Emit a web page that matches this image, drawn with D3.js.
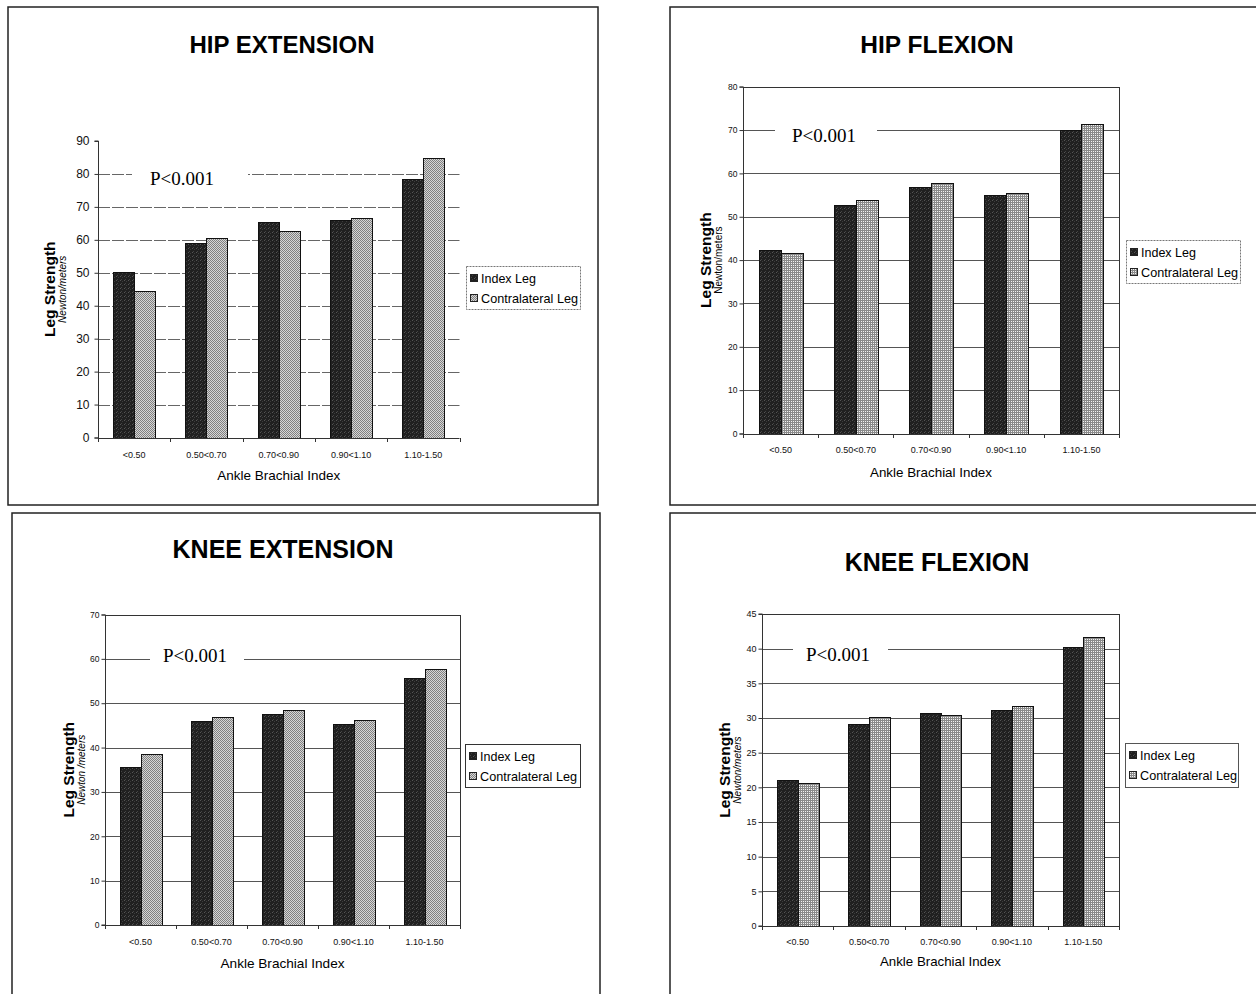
<!DOCTYPE html>
<html><head><meta charset="utf-8">
<script src="https://cdn.jsdelivr.net/npm/d3@7"></script>
<style>body{margin:0;background:#fff} svg{display:block}</style>
</head><body>
<svg id="c" width="1256" height="994"></svg>
<script>
// ---------- data ----------
const categories = ["<0.50", "0.50<0.70", "0.70<0.90", "0.90<1.10", "1.10-1.50"];
const seriesNames = ["Index Leg", "Contralateral Leg"];
const hipExtIndex   = [50.2, 58.9, 65.5, 66.0, 78.4];
const hipExtContra  = [44.6, 60.7, 62.8, 66.6, 84.9];
const hipFlexIndex  = [42.4, 52.6, 56.9, 55.0, 70.0];
const hipFlexContra = [41.6, 53.9, 57.9, 55.4, 71.3];
const kneeExtIndex  = [35.7, 46.0, 47.6, 45.4, 55.6];
const kneeExtContra = [38.5, 47.0, 48.5, 46.3, 57.8];
const kneeFlexIndex = [21.1, 29.2, 30.7, 31.2, 40.3];
const kneeFlexContra= [20.6, 30.2, 30.5, 31.8, 41.7];
const hipExtTicks  = [0, 10, 20, 30, 40, 50, 60, 70, 80, 90];
const hipFlexTicks = [0, 10, 20, 30, 40, 50, 60, 70, 80];
const kneeExtTicks = [0, 10, 20, 30, 40, 50, 60, 70];
const kneeFlexTicks= [0, 5, 10, 15, 20, 25, 30, 35, 40, 45];
const xAxisTitle = "Ankle Brachial Index";
const yAxisTitle = "Leg Strength";
const pValueLabel = "P<0.001";

// ---------- layout ----------
const panels = [
  { title: "HIP EXTENSION", titleSize: 24, frame: [8, 7, 590, 498], tx: 282, ty: 53,
    plot: { l: 98, r: 459.5, t: 141, b: 437.5 }, ticks: hipExtTicks, idx: hipExtIndex, con: hipExtContra,
    boxed: false, tickFont: 12, gridDash: "12,2", gridColor: "#666", unit: "Newton/meters", unitItalic: true,
    yTitleX: 55, yUnitX: 66, xLabY: 457, xTitleY: 480, xTitleLen: null, conPat: "stip",
    legend: { x: 466, y: 266, w: 114, h: 43, dash: "2,1", stroke: "#777" },
    p: { x: 150, y: 185, val: 80, gl: 132, gr: 248 } },
  { title: "HIP FLEXION", titleSize: 24.5, frame: [670, 7, 600, 498], tx: 937, ty: 53,
    plot: { l: 743, r: 1119, t: 86.7, b: 433.5 }, ticks: hipFlexTicks, idx: hipFlexIndex, con: hipFlexContra,
    boxed: true, tickFont: 8.5, gridDash: null, gridColor: "#555", unit: "Newton/meters", unitItalic: false,
    yTitleX: 711, yUnitX: 722, xLabY: 452, xTitleY: 477, xTitleLen: 122, conPat: "grid",
    legend: { x: 1126, y: 240, w: 114, h: 43, dash: "2,1", stroke: "#777" },
    p: { x: 792, y: 142, val: 70, gl: 775, gr: 877 } },
  { title: "KNEE EXTENSION", titleSize: 25, frame: [12, 513, 588, 500], tx: 283, ty: 558,
    plot: { l: 105, r: 460, t: 614.5, b: 925 }, ticks: kneeExtTicks, idx: kneeExtIndex, con: kneeExtContra,
    boxed: true, tickFont: 8.5, gridDash: null, gridColor: "#555", unit: "Newton /meters", unitItalic: true,
    yTitleX: 74, yUnitX: 85, xLabY: 944, xTitleY: 968, xTitleLen: 124, conPat: "stip",
    legend: { x: 465, y: 744, w: 115, h: 43, dash: null, stroke: "#333" },
    p: { x: 163, y: 662, val: 60, gl: 150, gr: 244 } },
  { title: "KNEE FLEXION", titleSize: 25, frame: [670, 513, 600, 500], tx: 937, ty: 571,
    plot: { l: 762, r: 1119, t: 614, b: 926 }, ticks: kneeFlexTicks, idx: kneeFlexIndex, con: kneeFlexContra,
    boxed: true, tickFont: 9, gridDash: null, gridColor: "#555", unit: "Newton/meters", unitItalic: true,
    yTitleX: 730, yUnitX: 741, xLabY: 944, xTitleY: 966, xTitleLen: 121, conPat: "grid",
    legend: { x: 1125, y: 743, w: 113, h: 44, dash: null, stroke: "#555" },
    p: { x: 806, y: 661, val: 40, gl: 793, gr: 888 } }
];

const svg = d3.select("#c");
const defs = svg.append("defs");

// index leg: dark stipple
const pi = defs.append("pattern").attr("id", "idx").attr("patternUnits", "userSpaceOnUse")
  .attr("width", 4).attr("height", 4);
pi.append("rect").attr("width", 4).attr("height", 4).attr("fill", "#202020");
pi.append("rect").attr("x", 0).attr("y", 0).attr("width", 1).attr("height", 1).attr("fill", "#555");
pi.append("rect").attr("x", 2).attr("y", 1).attr("width", 1).attr("height", 1).attr("fill", "#3c3c3c");
pi.append("rect").attr("x", 1).attr("y", 3).attr("width", 1).attr("height", 1).attr("fill", "#444");
// contralateral: grey stipple
const ps = defs.append("pattern").attr("id", "stip").attr("patternUnits", "userSpaceOnUse")
  .attr("width", 2).attr("height", 2);
ps.append("rect").attr("width", 2).attr("height", 2).attr("fill", "#d6d6d6");
ps.append("rect").attr("x", 0).attr("y", 0).attr("width", 1).attr("height", 1).attr("fill", "#808080");
ps.append("rect").attr("x", 1).attr("y", 1).attr("width", 1).attr("height", 1).attr("fill", "#808080");
// contralateral: fine grid
const pg = defs.append("pattern").attr("id", "grid").attr("patternUnits", "userSpaceOnUse")
  .attr("width", 2).attr("height", 2);
pg.append("rect").attr("width", 2).attr("height", 2).attr("fill", "#8a8a8a");
pg.append("rect").attr("x", 1).attr("y", 1).attr("width", 1).attr("height", 1).attr("fill", "#f2f2f2");

panels.forEach(P => {
  const g = svg.append("g");
  const [fx, fy, fw, fh] = P.frame;
  g.append("rect").attr("x", fx).attr("y", fy).attr("width", fw).attr("height", fh)
    .attr("fill", "none").attr("stroke", "#222").attr("stroke-width", 1.5);

  g.append("text").attr("x", P.tx).attr("y", P.ty).attr("text-anchor", "middle")
    .attr("font-family", "Liberation Sans, Arial, sans-serif").attr("font-weight", "bold")
    .attr("font-size", P.titleSize).text(P.title);

  const { l, r, t, b } = P.plot;
  const ymax = P.ticks[P.ticks.length - 1];
  const y = d3.scaleLinear().domain([0, ymax]).range([b, t]);
  const x = d3.scaleBand().domain(categories).range([l, r]).paddingInner(0.42).paddingOuter(0.21);
  const xs = d3.scaleBand().domain(seriesNames).range([0, x.bandwidth()]);

  // gridlines
  const gridVals = P.boxed ? P.ticks.slice(1) : P.ticks.slice(1, -1);
  g.append("g").selectAll("line").data(gridVals).join("line")
    .attr("x1", l).attr("x2", r).attr("y1", d => Math.round(y(d)) + 0.5).attr("y2", d => Math.round(y(d)) + 0.5)
    .attr("stroke", P.gridColor).attr("stroke-width", 1)
    .attr("stroke-dasharray", P.gridDash);

  if (P.boxed) {
    g.append("rect").attr("x", l + 0.5).attr("y", Math.round(t) + 0.5).attr("width", r - l)
      .attr("height", Math.round(b) - Math.round(t)).attr("fill", "none").attr("stroke", "#333");
  }

  // p-value label with white box
  const py = Math.round(y(P.p.val)) + 0.5;
  g.append("rect").attr("x", P.p.gl).attr("y", py - 14).attr("width", P.p.gr - P.p.gl).attr("height", 24)
    .attr("fill", "#fff");
  g.append("text").attr("x", P.p.x).attr("y", P.p.y)
    .attr("font-family", "Liberation Serif, Times New Roman, serif").attr("font-size", 19)
    .text(pValueLabel);

  // bars
  const series = [{ name: seriesNames[0], vals: P.idx, fill: "url(#idx)" },
                  { name: seriesNames[1], vals: P.con, fill: "url(#" + P.conPat + ")" }];
  series.forEach(s => {
    g.append("g").selectAll("rect").data(categories).join("rect")
      .attr("x", (c) => Math.round(x(c) + xs(s.name)) + 0.5)
      .attr("y", (c, i) => Math.round(y(s.vals[i])) + 0.5)
      .attr("width", Math.round(xs.bandwidth()))
      .attr("height", (c, i) => Math.round(b) - Math.round(y(s.vals[i])))
      .attr("fill", s.fill).attr("stroke", "#111").attr("stroke-width", 1);
  });

  // y axis
  const ya = d3.axisLeft(y).tickValues(P.ticks).tickSize(4).tickPadding(P.boxed ? 2 : 5).tickFormat(d3.format("d"));
  const yg = g.append("g").attr("transform", `translate(${l + 0.5},0)`).call(ya);
  yg.select(".domain").attr("stroke", "#333").attr("d", `M-4,${Math.round(b)}H0V${Math.round(t)}H-4`);
  yg.selectAll(".tick line").attr("stroke", "#333");
  yg.selectAll(".tick text").attr("font-family", "Liberation Sans, Arial, sans-serif")
    .attr("font-size", P.tickFont).attr("fill", "#111");

  // x axis
  const xa = d3.axisBottom(x).tickSize(0).tickPadding(0);
  const xg = g.append("g").attr("transform", `translate(0,${Math.round(b) + 0.5})`).call(xa);
  xg.select(".domain").attr("stroke", "#333").attr("d", `M${l},0H${r}`);
  xg.selectAll(".tick text").attr("y", P.xLabY - Math.round(b)).attr("dy", 0)
    .attr("font-family", "Liberation Sans, Arial, sans-serif").attr("font-size", 9).attr("fill", "#111");
  const bounds = d3.range(categories.length + 1).map(i => l + i * x.step());
  g.append("g").selectAll("line").data(bounds).join("line")
    .attr("x1", d => Math.round(d) + 0.5).attr("x2", d => Math.round(d) + 0.5)
    .attr("y1", Math.round(b)).attr("y2", Math.round(b) + 4).attr("stroke", "#333");

  // axis titles
  const xt = g.append("text").attr("x", (l + r) / 2).attr("y", P.xTitleY).attr("text-anchor", "middle")
    .attr("font-family", "Liberation Sans, Arial, sans-serif").attr("font-size", 13.5).text(xAxisTitle);
  if (P.xTitleLen) xt.attr("textLength", P.xTitleLen).attr("lengthAdjust", "spacingAndGlyphs");
  const cy = (t + b) / 2;
  g.append("text").attr("transform", `translate(${P.yTitleX},${cy}) rotate(-90)`).attr("text-anchor", "middle")
    .attr("font-family", "Liberation Sans, Arial, sans-serif").attr("font-weight", "bold")
    .attr("font-size", 15.5).text(yAxisTitle);
  g.append("text").attr("transform", `translate(${P.yUnitX},${cy}) rotate(-90)`).attr("text-anchor", "middle")
    .attr("font-family", "Liberation Sans, Arial, sans-serif").attr("font-style", P.unitItalic ? "italic" : "normal")
    .attr("font-size", 10).text(P.unit);

  // legend
  const L = P.legend;
  g.append("rect").attr("x", L.x + 0.5).attr("y", L.y + 0.5).attr("width", L.w).attr("height", L.h)
    .attr("fill", "#fff").attr("stroke", L.stroke).attr("stroke-dasharray", L.dash);
  const lg = g.append("g").selectAll("g").data(series).join("g")
    .attr("transform", (d, i) => `translate(${L.x + 4},${L.y + 8 + i * 20})`);
  lg.append("rect").attr("x", 0.5).attr("y", 0.5).attr("width", 7).attr("height", 7)
    .attr("fill", d => d.fill).attr("stroke", "#222");
  lg.append("text").attr("x", 11).attr("y", 8.5)
    .attr("font-family", "Liberation Sans Narrow, Liberation Sans, Arial, sans-serif").attr("font-size", 13)
    .attr("textLength", d => d.name === seriesNames[0] ? 55 : 97).attr("lengthAdjust", "spacingAndGlyphs")
    .text(d => d.name);
});
</script>
</body></html>
